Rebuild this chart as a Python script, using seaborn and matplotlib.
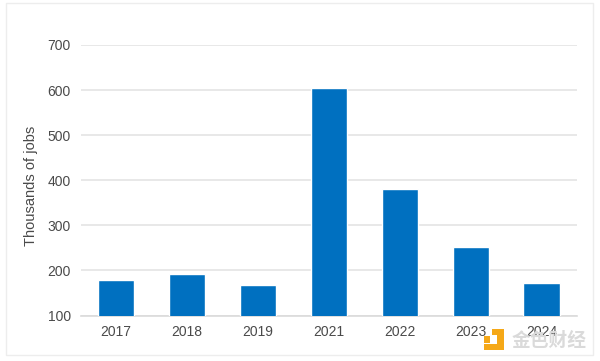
import matplotlib
matplotlib.use("Agg")
import matplotlib.pyplot as plt
from matplotlib.patches import Rectangle, Polygon
import pandas as pd
import seaborn as sns

years = ["2017", "2018", "2019", "2021", "2022", "2023", "2024"]
jobs = [178, 192, 167, 605, 380, 252, 172]
y_ticks = [100, 200, 300, 400, 500, 600, 700]
y_label = "Thousands of jobs"
watermark = "金色财经"

W, H = 600, 361
sns.set_theme(style="white")
plt.rcParams["font.family"] = ["Liberation Sans", "DejaVu Sans"]

fig = plt.figure(figsize=(W / 100, H / 100), dpi=100, facecolor="white")
ax = fig.add_axes([80.5 / W, 1 - 315.5 / H, 496.5 / W, 270.5 / H])
df = pd.DataFrame({"year": years, "jobs": jobs})
sns.barplot(data=df, x="year", y="jobs", color="#0070C0", saturation=1,
            width=0.51, ax=ax, zorder=3)
ax.set_xlim(-0.5, 6.5)
ax.set_ylim(100, 700)
ax.set_yticks(y_ticks)
ax.grid(axis="y", color="#E6E6E6", lw=1.3, zorder=0)
ax.set_axisbelow(True)
for s in ax.spines.values():
    s.set_visible(False)
ax.spines["bottom"].set_visible(True)
ax.spines["bottom"].set_color("#DADADA")
ax.spines["bottom"].set_linewidth(1.2)
ax.tick_params(axis="both", length=0, labelsize=10, labelcolor="#4A4A4A")
ax.tick_params(axis="x", pad=7)
ax.tick_params(axis="y", pad=7)
ax.set_xlabel("")
ax.set_ylabel("")
fig.text(31 / W, 1 - 186 / H, y_label, rotation=90, ha="center", va="center",
         fontsize=10.5, color="#4A4A4A")

# Card border
fig.add_artist(Rectangle((5.5 / W, 1 - 355 / H), 587.5 / W, 352 / H, fill=False,
                         ec="#EDEDED", lw=1.0, transform=fig.transFigure))

# Watermark
def px(x, y):
    return (x / W, 1 - y / H)
orange = "#F5A818"
fig.add_artist(Polygon([px(492, 329), px(504, 329), px(504, 350), px(484, 350),
                        px(484, 344), px(497, 344), px(497, 335), px(492, 335)],
                       closed=True, color=orange, lw=0, transform=fig.transFigure))
fig.add_artist(Rectangle(px(484, 343), 6 / W, 7 / H, color=orange, lw=0, transform=fig.transFigure))
fig.text(549.5 / W, 1 - 340 / H, watermark, ha="center", va="center", fontsize=13.5,
         family=["Noto Sans CJK SC", "DejaVu Sans"], color="#DADADA", weight="bold", zorder=10)

fig.savefig("out.png", dpi=100)
